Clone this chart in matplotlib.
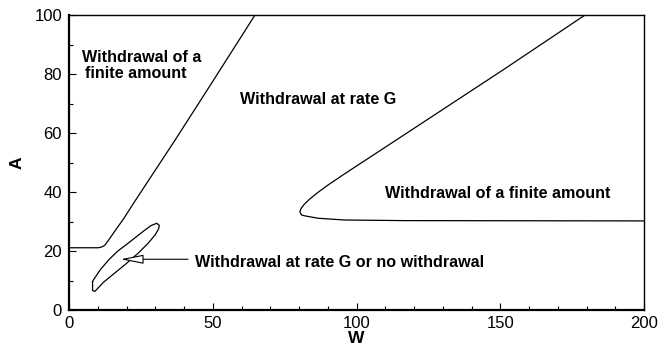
import matplotlib
matplotlib.use('Agg')
import matplotlib.pyplot as plt

plt.rcParams['font.family'] = ['Liberation Sans', 'DejaVu Sans']

# boundary between "finite amount" and "rate G" (left curve)
left_w = [0, 10.2, 11.5, 12.5, 14, 15.4, 18.9, 23, 36.9, 50, 64.7]
left_a = [21.1, 21.1, 21.4, 22, 24, 26, 30.8, 37, 57.6, 77.5, 100]

# small closed region "rate G or no withdrawal"
loop_w = [8.2, 8.5, 11, 14, 17, 20, 23, 26, 28.5, 30.5, 31.4, 31.2,
          30, 27.5, 24, 20, 16, 12, 9.0, 8.2, 8.2]
loop_a = [9.6, 10.2, 13.8, 17.2, 20, 22.2, 24.5, 26.8, 28.6, 29.4, 28.7, 27.6,
          25.5, 22.6, 19.2, 15.8, 12.6, 9.4, 6.3, 6.6, 9.6]

# right boundary (nose near W=80)
right_w = [200, 116.9, 96, 86.7, 82.1, 80.9, 80.3, 80.7, 81.8, 83.6, 86.5, 90, 95, 100, 108, 151, 179.5]
right_a = [30.2, 30.3, 30.5, 31.1, 31.9, 32.2, 33.3, 34.4, 35.8, 37.5, 39.8, 42.3, 45.6, 48.8, 53.9, 81.4, 100]

fig = plt.figure(figsize=(6.61, 3.48), dpi=100)
ax = fig.add_axes([69/661, 1-310/348, 575/661, 295/348])

for w, a in [(left_w, left_a), (loop_w, loop_a), (right_w, right_a)]:
    ax.plot(w, a, color='black', lw=0.9)

ax.set_xlim(0, 200)
ax.set_ylim(0, 100)
ax.set_xticks(range(0, 201, 50))
ax.set_xticks(range(0, 201, 10), minor=True)
ax.set_yticks(range(0, 101, 20))
ax.set_yticks(range(0, 101, 10), minor=True)
ax.tick_params(which='both', direction='in', top=False, right=False, width=0.8, labelsize=12)
ax.tick_params(which='major', length=5)
ax.tick_params(which='minor', length=3)
ax.tick_params(axis='x', pad=4)
ax.tick_params(axis='y', pad=5)
for s in ['left', 'bottom']:
    ax.spines[s].set_linewidth(1.6)
for s in ['top', 'right']:
    ax.spines[s].set_linewidth(1.0)

ax.set_xlabel('W', fontsize=12.5, fontweight='bold', labelpad=0)
ax.set_ylabel('A', fontsize=12.5, fontweight='bold', labelpad=7)

tkw = dict(fontsize=11.6, fontweight='bold', va='baseline', ha='left')
ax.text(4.5, 84.2, 'Withdrawal of a', **tkw)
ax.text(5.7, 78.5, 'finite amount', **tkw)
ax.text(59.5, 69.7, 'Withdrawal at rate G', **tkw)
ax.text(110, 37.9, 'Withdrawal of a finite amount', **tkw)
ax.text(43.8, 14.7, 'Withdrawal at rate G or no withdrawal', **tkw)
ax.annotate('', xy=(18, 17.2), xytext=(41.4, 17.2),
            arrowprops=dict(arrowstyle='-|>,head_length=1.4,head_width=0.28',
                            fc='white', ec='black', lw=0.8, shrinkA=0, shrinkB=0))

fig.savefig('out.png', dpi=100)
